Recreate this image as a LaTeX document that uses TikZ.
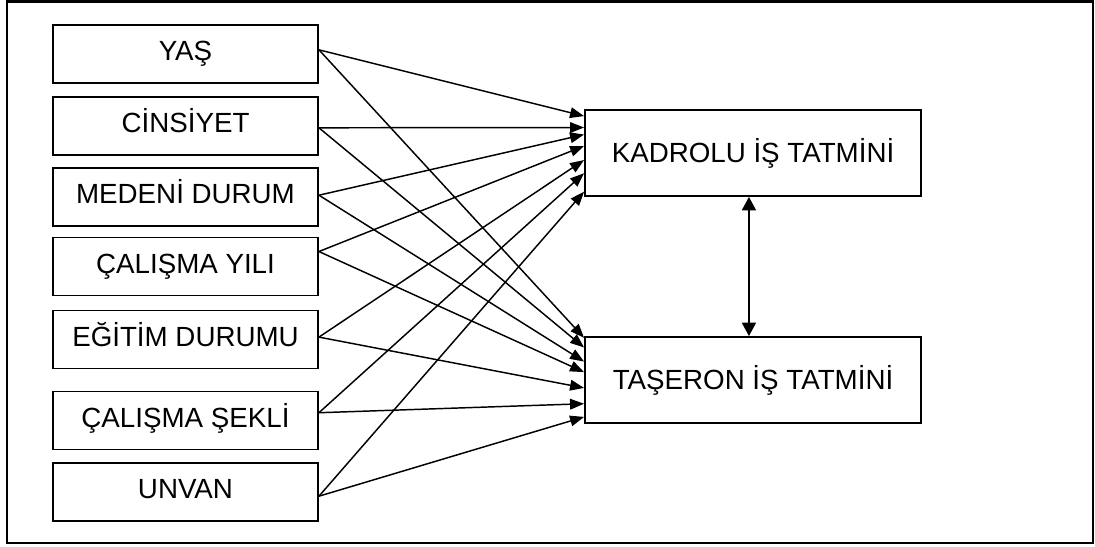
\documentclass[tikz,border=0pt]{standalone}
\usepackage{fontspec}
\setmainfont{Liberation Sans}
\usetikzlibrary{arrows.meta,calc}

\begin{document}
\begin{tikzpicture}[x=0.75pt,y=-0.75pt,
  box/.style={draw,line width=1.4pt,inner sep=0pt,font=\fontsize{20.8}{24}\selectfont},
  factor/.style={box,minimum width=198.75pt,minimum height=43.5pt,text height=14.9pt,text depth=4.5pt},
  outcome/.style={box,minimum width=252pt,minimum height=64.5pt,text height=14.9pt,text depth=0pt},
  link/.style={line width=1.1pt,-{Triangle[length=10.5pt,width=8pt]}},
  both/.style={line width=1.1pt,{Triangle[length=10pt,width=10.5pt]}-{Triangle[length=10pt,width=10.5pt]}}]

  \useasboundingbox (0,0) rectangle (1095,546);
  \draw[line width=1.5pt] (7,1.5) rectangle (1093,543);

  % demographic factors
  \node[factor] (yas)  at (185.5,54)    {YAŞ};
  \node[factor] (cins) at (185.5,126)   {CİNSİYET};
  \node[factor] (med)  at (185.5,197)   {MEDENİ DURUM};
  \node[factor] (caly) at (185.5,266.5) {ÇALIŞMA YILI};
  \node[factor] (egit) at (185.5,339.5) {EĞİTİM DURUMU};
  \node[factor] (sekl) at (185.5,420.5) {ÇALIŞMA ŞEKLİ};
  \node[factor] (unv)  at (185.5,492)   {UNVAN};

  % job satisfaction outcomes
  \node[outcome] (kad) at (753,153) {KADROLU İŞ TATMİNİ\hspace{10.5pt}};
  \node[outcome] (tas) at (753,380) {TAŞERON İŞ TATMİNİ\hspace{10.5pt}};

  % every factor points to both outcomes
  \foreach \s/\a/\b/\c in {yas/0.43/0.08/0.02, cins/0.53/0.21/0.13, med/0.47/0.29/0.29,
                           caly/0.25/0.42/0.41, egit/0.46/0.58/0.59, sekl/0.37/0.73/0.77,
                           unv/0.57/0.94/0.92}{
    \coordinate (\s-o) at ($(\s.north east)!\a!(\s.south east)$);
    \draw[link] (\s-o) -- ($(kad.north west)!\b!(kad.south west)$);
    \draw[link] (\s-o) -- ($(tas.north west)!\c!(tas.south west)$);
  }

  % mutual relation between the outcomes
  \coordinate (m) at ($(kad.south west)!0.488!(kad.south east)$);
  \draw[both] (m) -- (m |- tas.north);
\end{tikzpicture}
\end{document}
